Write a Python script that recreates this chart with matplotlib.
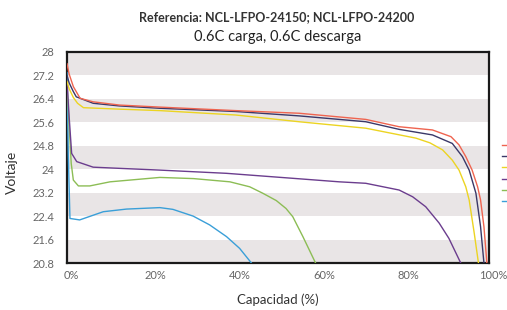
import numpy as np
import matplotlib
matplotlib.use("Agg")
import matplotlib.pyplot as plt
import matplotlib.transforms as mtransforms

plt.rcParams['font.family'] = ['Lato', 'DejaVu Sans']

# discharge curves (capacity %, voltage V)
red_x = [0, 0.5, 1.5, 3.1, 6.2, 12.4, 22, 40, 55, 70.8, 78.7, 86.6, 91, 92.9, 94.5, 96, 97.3, 98, 98.8, 99.5]
red_v = [27.6, 27.25, 26.82, 26.42, 26.30, 26.19, 26.12, 26.0, 25.91, 25.70, 25.45, 25.34, 25.11, 24.83, 24.43, 23.97, 23.4, 22.95, 22.04, 20.8]

navy_x = [0, 0.5, 1.5, 2.2, 6.2, 12.4, 22, 40, 55, 70.8, 78.7, 86.6, 91.3, 93.7, 95.3, 96.9, 98, 98.8]
navy_v = [27.2, 26.95, 26.65, 26.47, 26.25, 26.16, 26.08, 25.97, 25.82, 25.62, 25.36, 25.17, 24.88, 24.43, 23.97, 23.18, 22.04, 20.8]

yellow_x = [0, 0.5, 1.5, 2.5, 3.9, 12.4, 22, 40, 55, 70.8, 82.7, 86, 89, 91.3, 92.9, 94.5, 95.3, 96.5, 97.5]
yellow_v = [27.0, 26.75, 26.45, 26.25, 26.1, 26.05, 26.0, 25.85, 25.62, 25.40, 25.06, 24.9, 24.66, 24.31, 23.97, 23.4, 22.95, 21.82, 20.8]

purple_x = [0, 0.5, 1.1, 2.3, 6.2, 12.4, 22, 37.8, 53.5, 64.5, 70.8, 78.7, 81.9, 85, 88.2, 90.5, 93.3]
purple_v = [27.0, 25.8, 24.54, 24.26, 24.07, 24.03, 23.97, 23.86, 23.69, 23.57, 23.52, 23.29, 23.06, 22.72, 22.16, 21.64, 20.8]

green_x = [0, 0.5, 1.0, 1.5, 2.7, 5.4, 10.2, 22, 30, 38.6, 43.3, 46.4, 49.6, 51.9, 53.5, 55.9, 58.9]
green_v = [26.9, 25.5, 24.2, 23.63, 23.43, 23.43, 23.57, 23.72, 23.68, 23.57, 23.40, 23.18, 22.93, 22.66, 22.38, 21.70, 20.8]

blue_x = [0, 0.3, 0.7, 3.0, 8.6, 14.1, 22, 25.1, 29.9, 33.8, 37.8, 40.9, 43.7]
blue_v = [27.3, 24.5, 22.32, 22.27, 22.55, 22.64, 22.69, 22.63, 22.40, 22.10, 21.70, 21.30, 20.8]

y_ticks = [20.8, 21.6, 22.4, 23.2, 24, 24.8, 25.6, 26.4, 27.2, 28]
y_labels = ['20.8', '21.6', '22.4', '23.2', '24', '24.8', '25.6', '26.4', '27.2', '28']
x_ticks = [0, 20, 40, 60, 80, 100]
x_labels = ['0%', '20%', '40%', '60%', '80%', '100%']

series = [
    (red_x, red_v, '#ef6450'),
    (navy_x, navy_v, '#3a3868'),
    (yellow_x, yellow_v, '#ecd422'),
    (purple_x, purple_v, '#6b3d8e'),
    (green_x, green_v, '#8cbd55'),
    (blue_x, blue_v, '#3a9fd8'),
]

fig = plt.figure(figsize=(5.07, 3.10), dpi=100)
ax = fig.add_axes([67/507, 1 - 263/310, 422/507, 211/310])

# alternating grey bands
for i in range(0, len(y_ticks) - 1, 2):
    ax.axhspan(y_ticks[i], y_ticks[i + 1], color='#e9e5e6', lw=0, zorder=0)

handles = []
for k, (xs, vs, c) in enumerate(series):
    ln, = ax.plot(xs, vs, color=c, lw=1.0, zorder=10 - k)
    handles.append(ln)

ax.set_xlim(0, 100)
ax.set_ylim(20.8, 28)
ax.set_yticks(y_ticks)
ax.set_yticklabels(y_labels)
ax.set_xticks(x_ticks)
ax.set_xticklabels(x_labels)
ax.tick_params(length=0, labelsize=8, labelcolor='#666666')
ax.tick_params(axis='y', pad=9)
ax.tick_params(axis='x', pad=5)
shift = mtransforms.ScaledTranslation(4/100, 0, fig.dpi_scale_trans)
for lab in ax.get_xticklabels():
    lab.set_transform(lab.get_transform() + shift)

for sp in ax.spines.values():
    sp.set_linewidth(1.6)
    sp.set_color('#1a1a1a')

ax.set_ylabel('Voltaje', fontsize=10, color='#333333')
ax.yaxis.set_label_coords((18 - 67)/422, (263 - 172)/211)
ax.set_xlabel('Capacidad (%)', fontsize=9.5, color='#333333', labelpad=9)

fig.text(277/507, 1 - 17/310, 'Referencia: NCL-LFPO-24150; NCL-LFPO-24200',
         ha='center', va='center', fontsize=9, fontweight='bold', color='#333333')
fig.text(278/507, 1 - 37/310, '0.6C carga, 0.6C descarga',
         ha='center', va='center', fontsize=10.5, color='#222222')

fig.legend(handles, [' '] * len(handles), loc='upper left',
           bbox_to_anchor=(502/507, 1 - 142/310), frameon=False,
           fontsize=6, handlelength=2, labelspacing=0.5, borderpad=0,
           borderaxespad=0, handletextpad=0.2)

fig.savefig('out.png', dpi=100)
